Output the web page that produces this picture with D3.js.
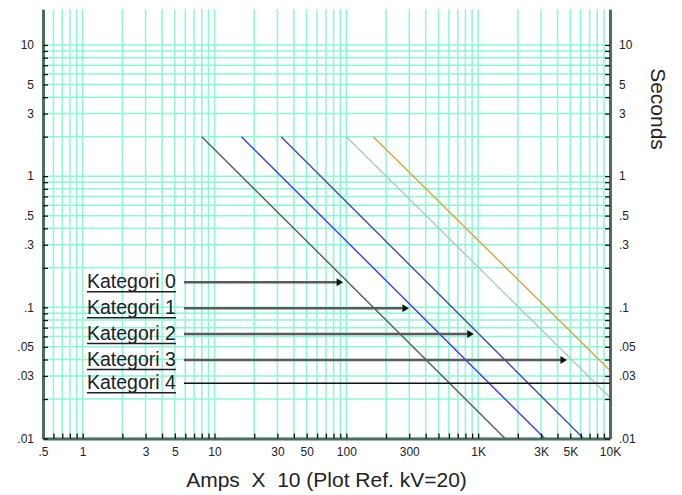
<!DOCTYPE html>
<html><head><meta charset="utf-8">
<script src="https://cdn.jsdelivr.net/npm/d3@7"></script>
<style>
body{margin:0;background:#fff}
svg{display:block;font-family:Arial,"Liberation Sans",sans-serif}
</style>
</head><body>
<svg id="chart" width="682" height="495"></svg>
<script>
// ---------- data ----------
const categories = ["Kategori 0", "Kategori 1", "Kategori 2", "Kategori 3", "Kategori 4"];
// each curve: start and end point (Amps x10, Seconds)
const curveAmps    = [[8, 1600], [16, 3200], [32, 6300], [100, 10000], [160, 10000]];
const curveSeconds = [[2, 0.01], [2, 0.01], [2, 0.01], [2, 0.0205], [2, 0.033]];
const xTickValues = [0.5, 1, 3, 5, 10, 30, 50, 100, 300, 1000, 3000, 5000, 10000];
const xTickLabels = [".5", "1", "3", "5", "10", "30", "50", "100", "300", "1K", "3K", "5K", "10K"];
const yTickValues = [0.01, 0.03, 0.05, 0.1, 0.3, 0.5, 1, 3, 5, 10];
const yTickLabels = [".01", ".03", ".05", ".1", ".3", ".5", "1", "3", "5", "10"];

// ---------- layout / style ----------
const curveColors = ["#5a5a5a", "#3b3bff", "#4848a8", "#a9cbc3", "#d4a64a"];
const L = 43, R = 610, T = 9.3, B = 438.5;
const legendRowY = [282.3, 308.3, 334, 360, 383.3];

const svg = d3.select("#chart");
const x = d3.scaleLog().domain([0.5, 10000]).range([L, R]);
const y = d3.scaleLog().domain([0.01, 18.7]).range([B, T]);

// grid
const grid = svg.append("g");
grid.selectAll("line.v").data(x.ticks()).join("line")
  .attr("x1", d => x(d)).attr("x2", d => x(d)).attr("y1", T).attr("y2", B)
  .attr("stroke", "#8cf7d4").attr("stroke-width", 1.5);
grid.selectAll("line.h").data(y.ticks()).join("line")
  .attr("x1", L).attr("x2", R).attr("y1", d => y(d)).attr("y2", d => y(d))
  .attr("stroke", "#8cf7d4").attr("stroke-width", 1.5);

// curves
const line = d3.line().x(d => x(d[0])).y(d => y(d[1]));
categories.forEach((c, i) => {
  const pts = curveAmps[i].map((a, j) => [a, curveSeconds[i][j]]);
  svg.append("path").attr("d", line(pts)).attr("fill", "none")
    .attr("stroke", curveColors[i]).attr("stroke-width", 1.4);
});

// axes
function fmt(vals, labels) { return d => { const k = vals.findIndex(v => Math.abs(v - d) / d < 1e-6); return k >= 0 ? labels[k] : ""; }; }
function styleAxis(g) {
  g.select(".domain").attr("stroke", "#4a6e5e").attr("stroke-width", 3);
  g.selectAll(".tick line").attr("stroke", "#111").attr("stroke-width", 1.3);
  g.selectAll(".tick text").attr("fill", "#222").attr("font-size", 12)
    .attr("font-family", "Arial, 'Liberation Sans', sans-serif");
}
svg.append("g").attr("transform", `translate(0,${B})`)
  .call(d3.axisBottom(x).tickValues(x.ticks()).tickSizeInner(-5).tickSizeOuter(0).tickPadding(9)
    .tickFormat(fmt(xTickValues, xTickLabels))).call(styleAxis);
svg.append("g").attr("transform", `translate(${L},0)`)
  .call(d3.axisLeft(y).tickValues(y.ticks()).tickSizeInner(-5).tickSizeOuter(0).tickPadding(9)
    .tickFormat(fmt(yTickValues, yTickLabels))).call(styleAxis);
svg.append("g").attr("transform", `translate(${R},0)`)
  .call(d3.axisRight(y).tickValues(y.ticks()).tickSizeInner(-5).tickSizeOuter(0).tickPadding(9)
    .tickFormat(fmt(yTickValues, yTickLabels))).call(styleAxis);

// legend / annotation arrows
categories.forEach((c, i) => {
  const ry = legendRowY[i];
  const t = svg.append("text").attr("x", 87).attr("y", ry + 6)
    .attr("font-size", 19.5).attr("fill", "#1c1c2a").text(c);
  const w = t.node().getComputedTextLength();
  svg.append("line").attr("x1", 87).attr("x2", 87 + w).attr("y1", ry + 9.5).attr("y2", ry + 9.5)
    .attr("stroke", "#1c1c2a").attr("stroke-width", 1.4);
  // intersection of row with curve (in pixel space)
  const p0 = [x(curveAmps[i][0]), y(curveSeconds[i][0])];
  const p1 = [x(curveAmps[i][1]), y(curveSeconds[i][1])];
  const f = (ry - p0[1]) / (p1[1] - p0[1]);
  const xi = p0[0] + f * (p1[0] - p0[0]);
  if (f <= 1 && xi < R) {
    const tip = xi - 5;
    svg.append("line").attr("x1", 184).attr("x2", tip - 5).attr("y1", ry).attr("y2", ry)
      .attr("stroke", "#5a5a5a").attr("stroke-width", 2.4);
    svg.append("path").attr("d", `M${tip},${ry}L${tip - 6.5},${ry - 4}L${tip - 6.5},${ry + 4}Z`)
      .attr("fill", "#111");
  } else {
    svg.append("line").attr("x1", 184).attr("x2", R).attr("y1", ry).attr("y2", ry)
      .attr("stroke", "#111").attr("stroke-width", 1.4);
  }
});

// titles
svg.append("text").attr("x", 326.5).attr("y", 487).attr("text-anchor", "middle")
  .attr("font-size", 21).attr("fill", "#222").style("white-space", "pre")
  .text("Amps  X  10 (Plot Ref. kV=20)");
svg.append("text").attr("transform", "translate(651,109) rotate(90)").attr("text-anchor", "middle")
  .attr("font-size", 21).attr("fill", "#222").text("Seconds");
</script>
</body></html>
